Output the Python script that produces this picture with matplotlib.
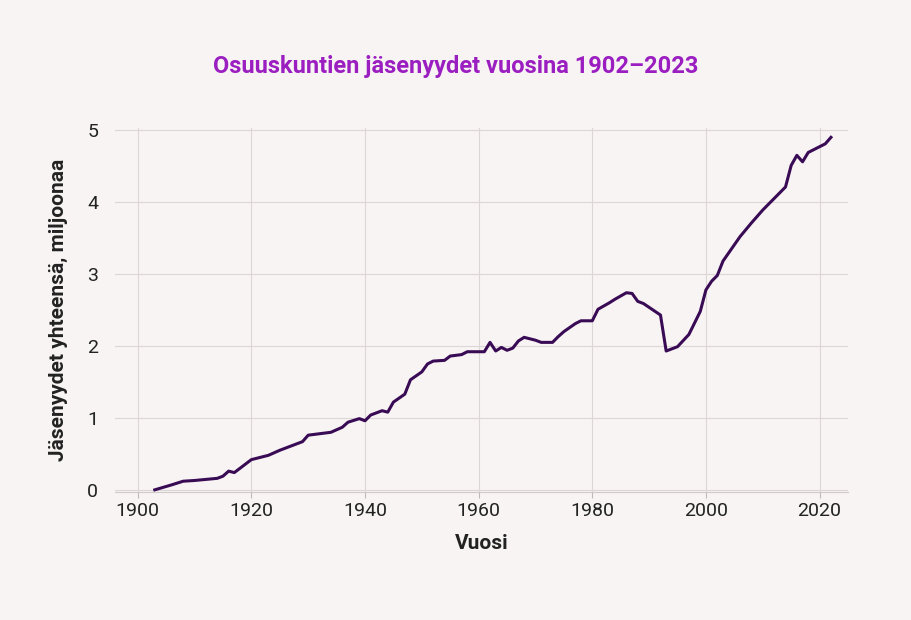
import matplotlib
matplotlib.use("Agg")
import matplotlib.pyplot as plt

years = [1903, 1906, 1908, 1910, 1914, 1915, 1916, 1917, 1919, 1920, 1923, 1925, 1929, 1930,
         1934, 1936, 1937, 1939, 1940, 1941, 1943, 1944, 1945, 1947, 1948, 1950, 1951, 1952,
         1954, 1955, 1957, 1958, 1959, 1961, 1962, 1963, 1964, 1965, 1966, 1967, 1968, 1970,
         1971, 1973, 1974, 1975, 1977, 1978, 1980, 1981, 1983, 1984, 1986, 1987, 1988, 1989,
         1992, 1993, 1995, 1997, 1999, 2000, 2001, 2002, 2003, 2006, 2008, 2010, 2012, 2014,
         2015, 2016, 2017, 2018, 2021, 2022]
members = [0.00, 0.07, 0.12, 0.13, 0.16, 0.19, 0.26, 0.24, 0.36, 0.42, 0.48, 0.55, 0.67, 0.76,
           0.80, 0.87, 0.94, 0.99, 0.96, 1.04, 1.10, 1.08, 1.22, 1.33, 1.53, 1.64, 1.75, 1.79,
           1.80, 1.86, 1.88, 1.92, 1.92, 1.92, 2.05, 1.93, 1.98, 1.94, 1.97, 2.07, 2.12, 2.08,
           2.05, 2.05, 2.13, 2.20, 2.31, 2.35, 2.35, 2.51, 2.60, 2.65, 2.74, 2.73, 2.62, 2.59,
           2.43, 1.93, 1.99, 2.16, 2.48, 2.78, 2.90, 2.98, 3.18, 3.52, 3.71, 3.89, 4.05, 4.21,
           4.51, 4.65, 4.56, 4.69, 4.81, 4.90]
xticks = [1900, 1920, 1940, 1960, 1980, 2000, 2020]
yticks = [0, 1, 2, 3, 4, 5]

bg = "#f8f4f4"
fig = plt.figure(figsize=(9.12, 6.20), dpi=100, facecolor=bg)
ax = fig.add_axes([115/912, 1-492/620, (848-115)/912, (492-128)/620], facecolor=bg)
ax.plot(years, members, color="#3a0b55", lw=2.2, solid_joinstyle="round")
ax.set_xlim(1896, 2025)
ax.set_ylim(-0.03, 5.03)
ax.set_xticks(xticks)
ax.set_yticks(yticks)
ax.grid(True, color="#dcd6d6", lw=0.8)
ax.set_axisbelow(True)
for s in ["top", "right", "left"]:
    ax.spines[s].set_visible(False)
ax.spines["bottom"].set_color("#d0caca")
ax.tick_params(axis="y", length=0, pad=12, labelsize=14, labelcolor="#222222")
ax.tick_params(axis="x", length=4, color="#bbbbbb", labelsize=14, labelcolor="#222222")
for lab in ax.get_xticklabels() + ax.get_yticklabels():
    lab.set_fontfamily("Roboto")
ax.set_xlabel("Vuosi", fontsize=15, fontweight="bold", family="Roboto", labelpad=10, color="#222222")
ax.set_ylabel("Jäsenyydet yhteensä, miljoonaa", fontsize=15, fontweight="bold", family="Roboto",
              labelpad=14, color="#222222")
fig.text(0.5, 1-67/620, "Osuuskuntien jäsenyydet vuosina 1902–2023", ha="center", va="center",
         fontsize=17, fontweight="bold", family="Roboto", color="#9b1fc0")
fig.savefig("out.png", dpi=100, facecolor=bg)
